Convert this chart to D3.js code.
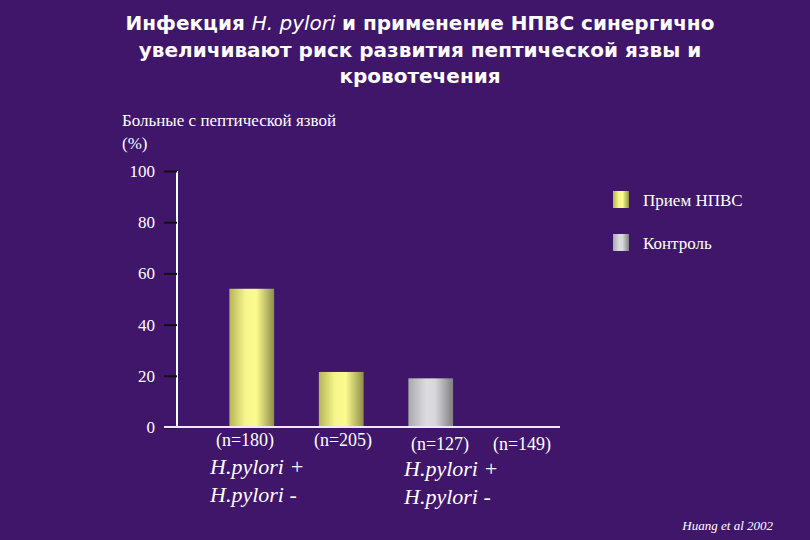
<!DOCTYPE html><html><head><meta charset="utf-8"><script src="https://cdn.jsdelivr.net/npm/d3@7"></script>
<style>body{margin:0;background:#40166a}svg{display:block}.serif{font-family:"Liberation Serif","DejaVu Serif",serif}</style></head><body><svg width="810" height="540"></svg><script>
const groups=["(n=180)","(n=205)","(n=127)","(n=149)"];
const values=[54,21.5,19,0];
const seriesOf=["nsaid","nsaid","control","control"];
const yTicks=[0,20,40,60,80,100];
const svg=d3.select("svg");
svg.append("rect").attr("width",810).attr("height",540).attr("fill","#40166a");
const defs=svg.append("defs");
function grad(id,stops){const g=defs.append("linearGradient").attr("id",id);stops.forEach(([o,c])=>g.append("stop").attr("offset",o).attr("stop-color",c));}
grad("nsaid",[[0,"#b5b45a"],[0.35,"#f5f58a"],[0.6,"#fbfb8e"],[1,"#8f8e4a"]]);
grad("control",[[0,"#a9a9ad"],[0.4,"#dcdce0"],[0.6,"#d8d8dc"],[1,"#808084"]]);
const x=d3.scaleBand().domain(groups).range([207,565]).paddingInner(0.5).paddingOuter(0.25);
const y=d3.scaleLinear().domain([0,100]).range([427,171]);
svg.append("g").attr("transform","translate(177,0)").call(d3.axisLeft(y).tickValues(yTicks).tickSize(13).tickFormat(d3.format("d")))
 .call(g=>{g.select(".domain").attr("stroke","#fff").attr("stroke-width",2).attr("d","M0,171V427");g.selectAll(".tick line").attr("stroke","#111").attr("stroke-width",2);g.selectAll("text").attr("fill","#fff").attr("class","serif").attr("font-size",17).attr("x",-22);});
svg.selectAll(".bar").data(values).join("rect").attr("x",(d,i)=>x(groups[i])).attr("width",x.bandwidth())
 .attr("y",d=>y(d)).attr("height",d=>y(0)-y(d)).attr("fill",(d,i)=>`url(#${seriesOf[i]})`);
svg.append("line").attr("x1",164).attr("x2",560).attr("y1",427).attr("y2",427).attr("stroke","#f4e6ff").attr("stroke-width",2);
const nx=[245,343,440,522];
function T(){return svg.append("text").attr("class","serif").attr("fill","#fff");}
groups.forEach((g,i)=>T().attr("x",nx[i]).attr("y",i<2?446:450).attr("text-anchor","middle").attr("font-size",18).text(g));
[["H.pylori +",210,474],["H.pylori -",210,502],["H.pylori +",404,476],["H.pylori -",404,504]].forEach(([t,a,b])=>T().attr("x",a).attr("y",b).attr("font-style","italic").attr("font-size",22).text(t));
T().attr("x",122).attr("y",126).attr("font-size",17).text("Больные с пептической язвой");
T().attr("x",122).attr("y",149).attr("font-size",17).text("(%)");
const legend=[["nsaid","Прием НПВС",201],["control","Контроль",244]];
legend.forEach(([s,t,yy])=>{svg.append("rect").attr("x",613).attr("y",yy-10).attr("width",16).attr("height",17).attr("fill",`url(#${s})`);T().attr("x",643).attr("y",yy+5).attr("font-size",17).text(t);});
const tt=svg.append("g").attr("font-family","DejaVu Sans").attr("font-weight","bold").attr("font-size",20).attr("fill","#fff").attr("text-anchor","middle");
const l1=tt.append("text").attr("x",420).attr("y",30);
l1.append("tspan").text("Инфекция ");l1.append("tspan").attr("font-style","italic").attr("font-weight","normal").text("H. pylori ");l1.append("tspan").text(" и применение НПВС синергично");
tt.append("text").attr("x",420).attr("y",57).text("увеличивают риск развития пептической язвы и");
tt.append("text").attr("x",420).attr("y",83).text("кровотечения");
T().attr("x",773).attr("y",530).attr("text-anchor","end").attr("font-style","italic").attr("font-size",13).text("Huang et al 2002");
</script></body></html>
